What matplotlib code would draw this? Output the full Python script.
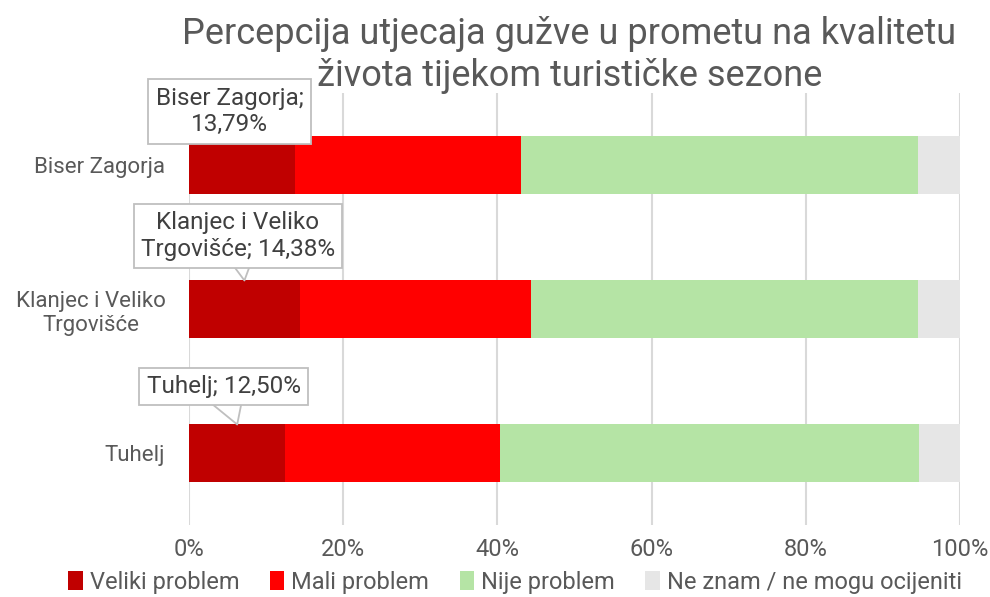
import numpy as np
import matplotlib.pyplot as plt

plt.rcParams['font.family'] = ['Roboto', 'DejaVu Sans']

# data (top to bottom in the chart)
kategorije = ['Biser Zagorja', 'Klanjec i Veliko\nTrgovišće', 'Tuhelj']
oznake = ['Biser Zagorja;\n13,79%', 'Klanjec i Veliko\nTrgovišće; 14,38%', 'Tuhelj; 12,50%']
veliki = [13.79, 14.38, 12.50]
mali = [29.31, 30.02, 27.80]
nije = [51.50, 50.20, 54.40]
ne_znam = [5.40, 5.40, 5.30]

serije = ['Veliki problem', 'Mali problem', 'Nije problem', 'Ne znam / ne mogu ocijeniti']
boje = ['#c00000', '#ff0000', '#b5e4a5', '#e6e6e6']
txt = '#595959'

fig = plt.figure(figsize=(9.9, 5.97), dpi=100)
ax = fig.add_axes([189/990, 72/597, 771/990, 432/597])

y = np.arange(len(kategorije))[::-1]
lijevo = np.zeros(len(kategorije))
for vals, ime, c in zip([veliki, mali, nije, ne_znam], serije, boje):
    ax.barh(y, vals, left=lijevo, height=0.396, color=c, label=ime, zorder=2)
    lijevo += np.array(vals)

ax.set_xlim(0, 100)
ax.set_ylim(-0.5, 2.5)
ax.set_xticks(np.arange(0, 101, 20))
ax.set_xticklabels([f'{v}%' for v in range(0, 101, 20)])
ax.set_yticks(y)
ax.set_yticklabels(kategorije)
for t in ax.get_yticklabels():
    t.set_multialignment('center')
ax.grid(axis='x', color='#d9d9d9', lw=1.5, zorder=0)
for s in ax.spines.values():
    s.set_visible(False)
ax.tick_params(length=0, labelcolor=txt)
ax.tick_params(axis='x', pad=9, labelsize=17)
ax.tick_params(axis='y', pad=17, labelsize=16)

# callout labels for the first series
pomak = [0.174, 0.309, 0.264]
dx = [-1.65, -0.84, -1.77]
for yi, v, lab, h, d in zip(y, veliki, oznake, pomak, dx):
    ax.annotate(lab, xy=(v / 2, yi + 0.198), xytext=(v / 2 + d, yi + 0.198 + h),
                ha='center', va='center', fontsize=17.5, color='#404040',
                bbox=dict(boxstyle='square,pad=0.3', fc='white', ec='#bfbfbf', lw=1.3),
                arrowprops=dict(arrowstyle='wedge,tail_width=2.0,shrink_factor=0.5',
                                fc='white', ec='#bfbfbf', lw=1.3,
                                patchA=None, shrinkA=0, shrinkB=0),
                zorder=5)

fig.text(569.5 / 990, 1 - 55 / 597,
         'Percepcija utjecaja gužve u prometu na kvalitetu\nživota tijekom turističke sezone',
         ha='center', va='center', fontsize=26, color=txt, linespacing=1.2)

ax.legend(loc='center', bbox_to_anchor=(0.423, -0.132), ncol=4, frameon=False,
          fontsize=17, labelcolor=txt, handlelength=0.6, handleheight=0.9,
          handletextpad=0.3, columnspacing=1.3)

fig.savefig('out.png', dpi=100)
